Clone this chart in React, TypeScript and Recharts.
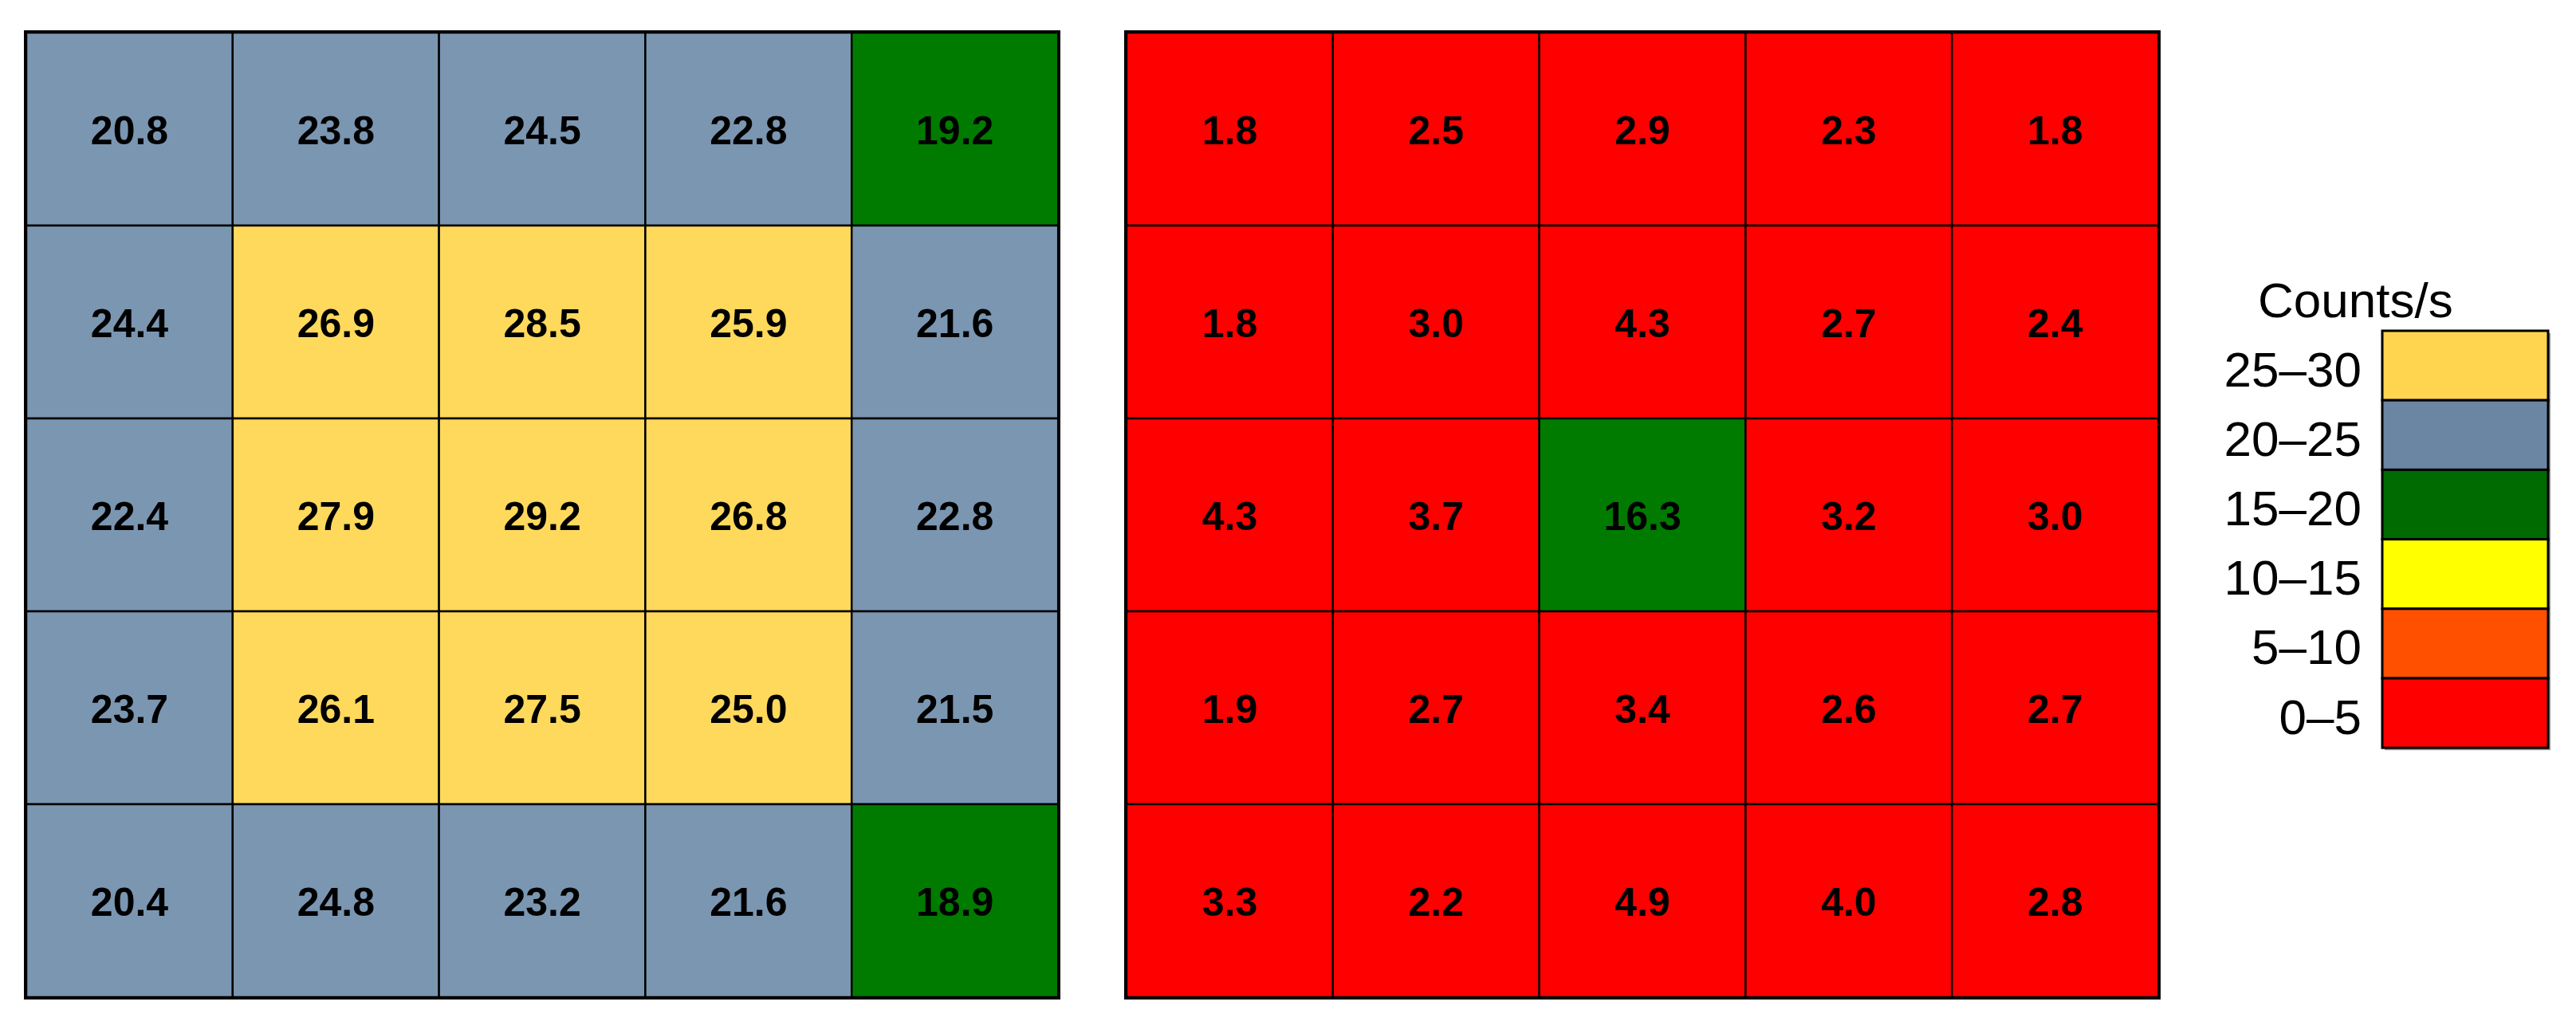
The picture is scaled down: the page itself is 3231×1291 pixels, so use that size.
import { BarChart, Bar, XAxis, YAxis, Cell, LabelList } from "recharts";

// grid columns (left to right)
const columns = ["c1", "c2", "c3", "c4", "c5"];

// count rates per pixel, top row first
const leftRows = [
  [20.8, 23.8, 24.5, 22.8, 19.2],
  [24.4, 26.9, 28.5, 25.9, 21.6],
  [22.4, 27.9, 29.2, 26.8, 22.8],
  [23.7, 26.1, 27.5, 25.0, 21.5],
  [20.4, 24.8, 23.2, 21.6, 18.9],
];

const rightRows = [
  [1.8, 2.5, 2.9, 2.3, 1.8],
  [1.8, 3.0, 4.3, 2.7, 2.4],
  [4.3, 3.7, 16.3, 3.2, 3.0],
  [1.9, 2.7, 3.4, 2.6, 2.7],
  [3.3, 2.2, 4.9, 4.0, 2.8],
];

// color bins (upper edges), low to high
const binEdges = [5, 10, 15, 20, 25, 30];
const cellColors = ["#FF0000", "#FF5000", "#FFFF00", "#007B00", "#7B96B1", "#FFD95C"];

// legend, top to bottom
const legendLabels = ["25–30", "20–25", "15–20", "10–15", "5–10", "0–5"];
const legendColors = ["#FFD54F", "#6B86A3", "#006B00", "#FFFF00", "#FF5000", "#FF0000"];

const FONT = "'Liberation Sans', Arial, Helvetica, sans-serif";

function colorFor(v: number) {
  const i = binEdges.findIndex((e) => v < e);
  return cellColors[i < 0 ? cellColors.length - 1 : i];
}

function CellLabel(props: any) {
  const { x, y, width, height, value } = props;
  return (
    <text
      x={x + width / 2}
      y={y + height / 2}
      dy={2}
      textAnchor="middle"
      dominantBaseline="central"
      fontFamily={FONT}
      fontWeight="bold"
      fontSize={50}
      fill="#000"
    >
      {Number(value).toFixed(1)}
    </text>
  );
}

function HeatGrid({ rows, left }: { rows: number[][]; left: number }) {
  // each row is one stacked unit; the value rides along for the label
  const data = columns.map((col, c) => {
    const d: any = { col };
    rows.forEach((row, r) => {
      d[`h${r}`] = 1;
      d[`v${r}`] = row[c];
    });
    return d;
  });

  return (
    <div
      style={{
        position: "absolute",
        left,
        top: 38,
        width: 1294,
        height: 1210,
        border: "3px solid #000",
      }}
    >
      <BarChart
        width={1294}
        height={1210}
        data={data}
        margin={{ top: 0, right: 0, bottom: 0, left: 0 }}
        barCategoryGap={0}
        barGap={0}
      >
        <XAxis dataKey="col" type="category" hide />
        <YAxis type="number" domain={[0, rows.length]} reversed hide />
        {rows.map((row, r) => (
          <Bar
            key={r}
            dataKey={`h${r}`}
            stackId="grid"
            isAnimationActive={false}
            stroke="#000"
            strokeWidth={2.5}
          >
            {row.map((v, c) => (
              <Cell key={c} fill={colorFor(v)} />
            ))}
            <LabelList dataKey={`v${r}`} content={<CellLabel />} />
          </Bar>
        ))}
      </BarChart>
    </div>
  );
}

function ColorLegend() {
  const boxX = 208;
  const boxW = 208;
  const boxTop = 85;
  const boxH = 87.2;
  return (
    <svg
      style={{ position: "absolute", left: 2780, top: 330 }}
      width={440}
      height={640}
    >
      <text x={52} y={68} fontFamily={FONT} fontSize={62} fill="#000">
        Counts/s
      </text>
      <rect
        x={boxX + 3}
        y={boxTop + 3}
        width={boxW}
        height={boxH * legendLabels.length}
        fill="#9a9a9a"
      />
      {legendLabels.map((label, i) => (
        <g key={label}>
          <rect
            x={boxX}
            y={boxTop + i * boxH}
            width={boxW}
            height={boxH}
            fill={legendColors[i]}
            stroke="#000"
            strokeWidth={3}
          />
          <text
            x={182}
            y={boxTop + i * boxH + boxH / 2 + 26}
            textAnchor="end"
            fontFamily={FONT}
            fontSize={62}
            fill="#000"
          >
            {label}
          </text>
        </g>
      ))}
    </svg>
  );
}

export default function App() {
  return (
    <div
      style={{
        position: "absolute",
        left: 0,
        top: 0,
        width: 3231,
        height: 1291,
        background: "#fff",
      }}
    >
      <HeatGrid rows={leftRows} left={30} />
      <HeatGrid rows={rightRows} left={1410} />
      <ColorLegend />
    </div>
  );
}
